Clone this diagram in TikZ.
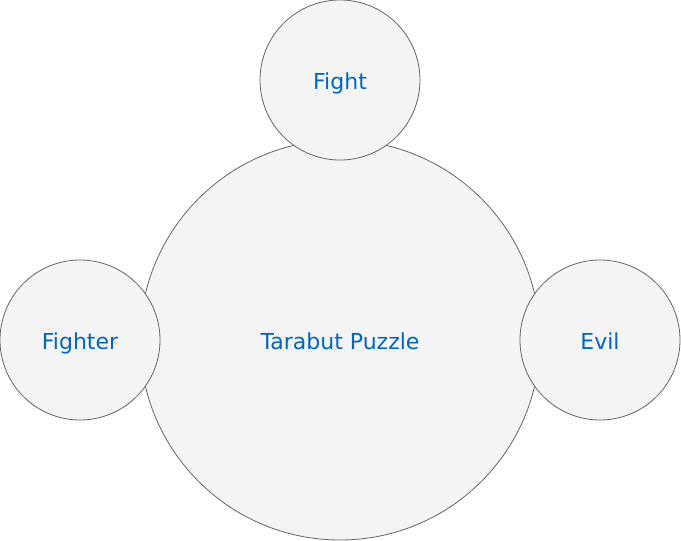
\documentclass[tikz,border=0pt]{standalone}
\usepackage{fontspec}
\setmainfont{DejaVu Sans}
\definecolor{txt}{HTML}{0066CC}
\definecolor{fillc}{HTML}{F4F4F4}
\definecolor{linec}{HTML}{666666}
\begin{document}
\begin{tikzpicture}[x=1pt,y=-1pt,
  bubble/.style={circle,draw=linec,fill=fillc,line width=0.8pt,inner sep=0pt,text=txt,
    font=\fontsize{22}{24}\selectfont,text height=18pt,text depth=0pt}]
\useasboundingbox (0,0) rectangle (681,541);
\node[bubble,minimum size=400pt] (main) at (340,340) {Tarabut Puzzle};
\node[bubble,minimum size=160pt] (fight) at (340,80) {Fight};
\node[bubble,minimum size=160pt] (fighter) at (80,340) {Fighter};
\node[bubble,minimum size=160pt] (evil) at (600,340) {Evil};
\end{tikzpicture}
\end{document}
